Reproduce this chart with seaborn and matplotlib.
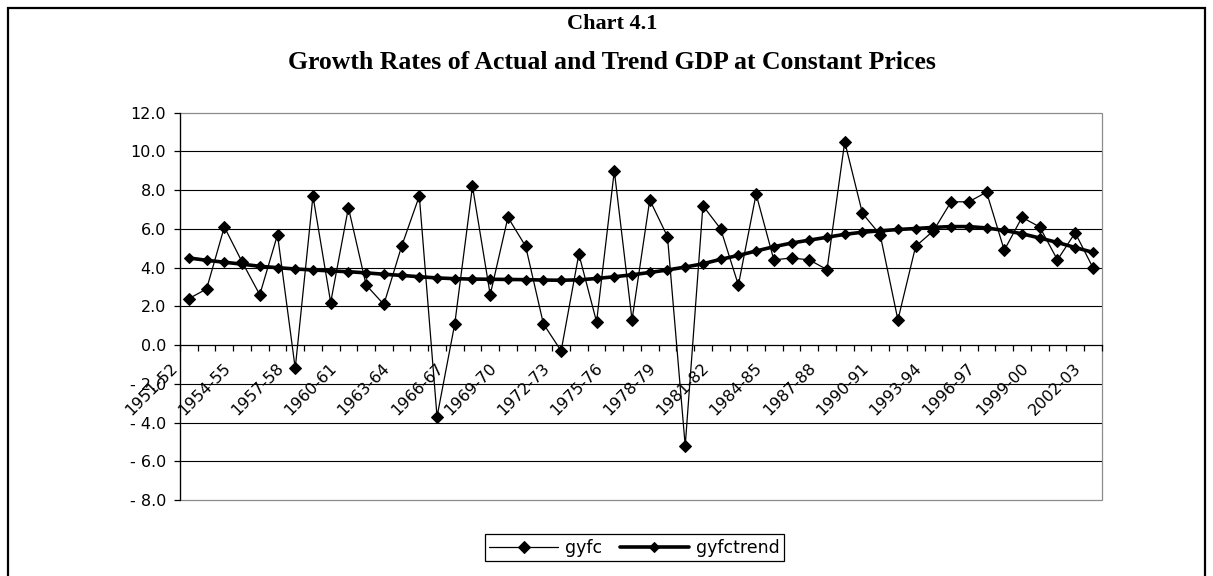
import numpy as np
import pandas as pd
import matplotlib
matplotlib.use("Agg")
import matplotlib.pyplot as plt
import matplotlib.transforms as mtransforms
from matplotlib.patches import Rectangle
import seaborn as sns

# Financial years 1951-52 ... 2002-03 (category axis)
years = [f"{y}-{(y + 1) % 100:02d}" for y in range(1951, 2003)]

# Actual growth rate of GDP at constant prices (%)
gyfc = [2.4, 2.9, 6.1, 4.3, 2.6, 5.7, -1.2, 7.7, 2.2, 7.1,
        3.1, 2.1, 5.1, 7.7, -3.7, 1.1, 8.2, 2.6, 6.6, 5.1,
        1.1, -0.3, 4.7, 1.2, 9.0, 1.3, 7.5, 5.6, -5.2, 7.2,
        6.0, 3.1, 7.8, 4.4, 4.5, 4.4, 3.9, 10.5, 6.8, 5.7,
        1.3, 5.1, 5.9, 7.4, 7.4, 7.9, 4.9, 6.6, 6.1, 4.4,
        5.8, 4.0]

# Trend growth rate (%)
gyfctrend = [4.50, 4.38, 4.28, 4.18, 4.07, 4.00, 3.93, 3.88, 3.83, 3.79,
             3.73, 3.66, 3.60, 3.53, 3.47, 3.43, 3.41, 3.40, 3.39, 3.38,
             3.36, 3.35, 3.37, 3.44, 3.53, 3.63, 3.75, 3.88, 4.03, 4.20,
             4.43, 4.63, 4.86, 5.08, 5.27, 5.42, 5.57, 5.72, 5.83, 5.90,
             5.97, 6.02, 6.08, 6.12, 6.12, 6.05, 5.92, 5.75, 5.53, 5.30,
             5.04, 4.79]

y_ticks = [-8, -6, -4, -2, 0, 2, 4, 6, 8, 10, 12]
y_tick_labels = ["- 8.0", "- 6.0", "- 4.0", "- 2.0", "0.0", "2.0", "4.0",
                 "6.0", "8.0", "10.0", "12.0"]
label_step = 3  # every third year is labelled

df = pd.DataFrame({"year": years, "gyfc": gyfc, "gyfctrend": gyfctrend})
df["pos"] = np.arange(len(df))

sns.set_theme(style="white")
plt.rcParams["font.family"] = ["DejaVu Sans"]
plt.rcParams["text.color"] = "black"
plt.rcParams["xtick.color"] = "black"
plt.rcParams["ytick.color"] = "black"

fig = plt.figure(figsize=(12.13, 5.76), dpi=100)
ax = fig.add_axes([0.1484, 0.1319, 0.7599, 0.6724])

# horizontal gridlines
for v in y_ticks[1:-1]:
    if v != 0:
        ax.axhline(v, color="black", lw=0.8, zorder=0)

sns.lineplot(data=df, x="pos", y="gyfc", color="black", lw=0.9, marker="D",
             markersize=5.8, markeredgecolor="black", label="gyfc", ax=ax)
sns.lineplot(data=df, x="pos", y="gyfctrend", color="black", lw=2.6, marker="D",
             markersize=5.2, markeredgecolor="black", label="gyfctrend", ax=ax)

ax.set_xlim(-0.5, len(years) - 0.5)
ax.set_ylim(-8, 12)
ax.set_xlabel("")
ax.set_ylabel("")

# spines: value axis on the left, category axis crossing at zero
for s in ["top", "right"]:
    ax.spines[s].set_visible(False)
ax.spines["left"].set_color("black")
ax.spines["left"].set_linewidth(0.9)
ax.spines["bottom"].set_position(("data", 0))
ax.spines["bottom"].set_color("black")
ax.spines["bottom"].set_linewidth(0.9)
ax.add_patch(Rectangle((0, 0), 1, 1, transform=ax.transAxes, fill=False,
                       edgecolor="#8c8c8c", lw=0.9, zorder=0.5, clip_on=False))

ax.set_yticks(y_ticks)
ax.set_yticklabels(y_tick_labels)
ax.tick_params(axis="y", which="major", left=True, length=4, width=0.9,
               direction="out", pad=6, labelsize=11.5, color="black")

ax.set_xticks(df["pos"][::label_step])
ax.set_xticklabels(years[::label_step], rotation=45, ha="right", va="center",
                   rotation_mode="anchor")
ax.set_xticks(np.arange(-0.5, len(years), 1), minor=True)
ax.tick_params(axis="x", which="major", bottom=True, length=0, pad=15, labelsize=11.5)
ax.tick_params(axis="x", which="minor", bottom=True, length=4, width=0.9,
               direction="out", color="black")
offset = mtransforms.ScaledTranslation(-14 / 100, 0, fig.dpi_scale_trans)
for lab in ax.get_xticklabels():
    lab.set_transform(lab.get_transform() + offset)

# legend below the plot
handles, labels = ax.get_legend_handles_labels()
ax.get_legend().remove()
leg = fig.legend(handles, labels, loc="center", bbox_to_anchor=(0.523, 0.049),
                 ncol=2, frameon=True, fancybox=False, edgecolor="black",
                 framealpha=1, fontsize=12.5, handlelength=4.0, handletextpad=0.4,
                 columnspacing=1.0, borderpad=0.25)
leg.get_frame().set_linewidth(0.9)

fig.text(0.5045, 0.958, "Chart 4.1", ha="center", va="center",
         family="Liberation Serif", weight="bold", fontsize=16)
fig.text(0.5045, 0.891, "Growth Rates of Actual and Trend GDP at Constant Prices",
         ha="center", va="center", family="Liberation Serif", weight="bold",
         fontsize=18.5)

# outer frame of the chart
fig.add_artist(Rectangle((8 / 1213, -0.05), (1205 - 8) / 1213, (568 / 576) + 0.05,
                         transform=fig.transFigure, fill=False,
                         edgecolor="black", lw=1.6))

plt.savefig("out.png", dpi=100)
